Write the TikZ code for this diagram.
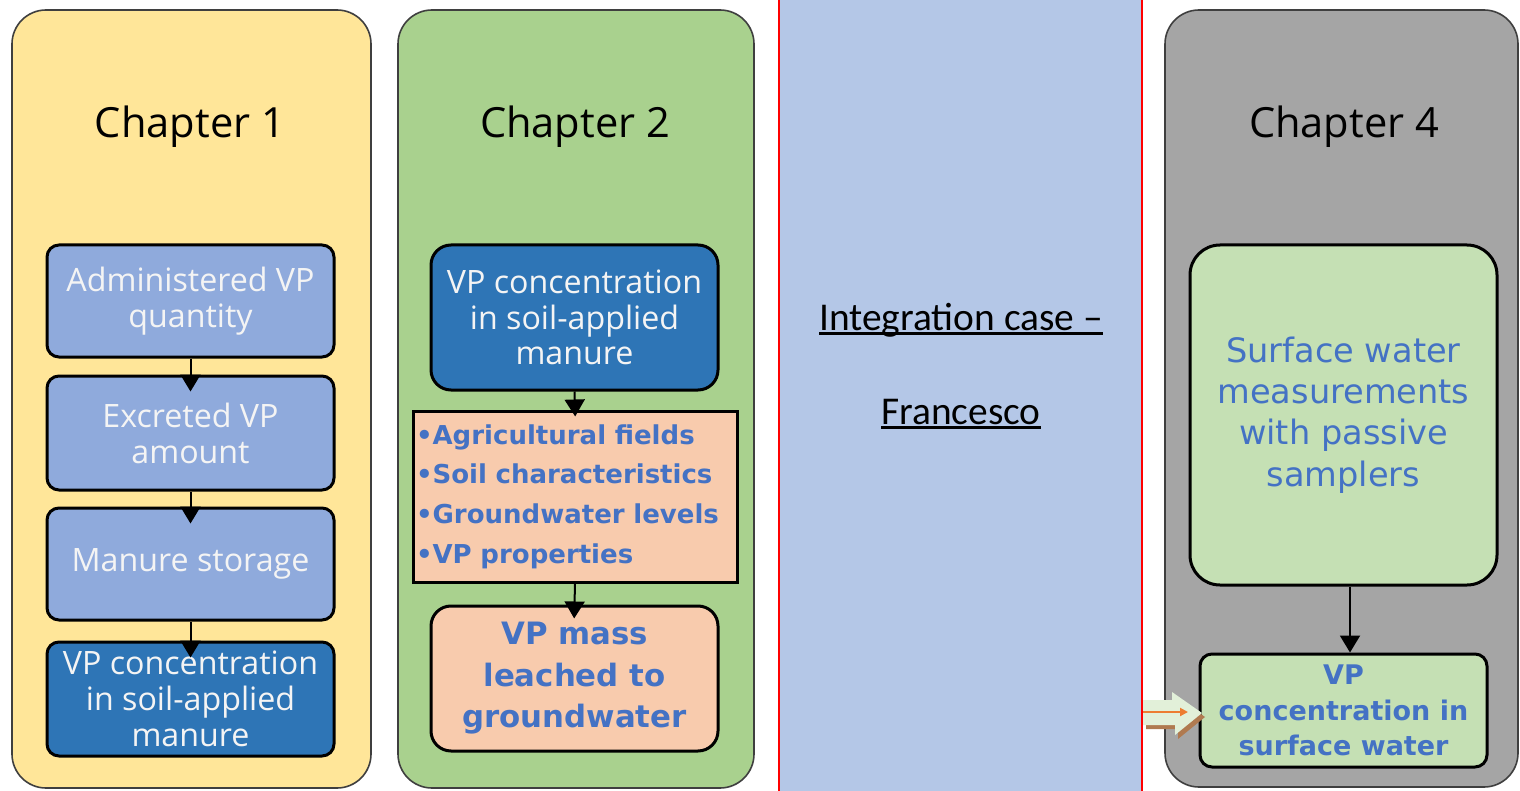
\documentclass[tikz,border=0pt]{standalone}
\usepackage{fontspec}
\setmainfont{Open Sans}
\newfontfamily\dejavu{DejaVu Sans}
\newfontfamily\carlito{Carlito}
\usetikzlibrary{arrows.meta}

\definecolor{panelyellow}{HTML}{FFE699}
\definecolor{panelgreen}{HTML}{A9D18E}
\definecolor{panelgray}{HTML}{A5A5A5}
\definecolor{panelline}{HTML}{3F3F3F}
\definecolor{midblue}{HTML}{B4C7E7}
\definecolor{lightbox}{HTML}{8FAADC}
\definecolor{darkbox}{HTML}{2E75B6}
\definecolor{peach}{HTML}{F8CBAD}
\definecolor{palegreen}{HTML}{C5E0B4}
\definecolor{bluetext}{HTML}{4472C4}
\definecolor{arrowgreen}{HTML}{E2F0D9}
\definecolor{arrowbrown}{HTML}{B07A50}
\definecolor{arroworange}{HTML}{ED7D31}
\definecolor{offwhite}{HTML}{F4F4F4}

% underline placed close to the baseline, as word processors do
\newcommand\wordul[1]{\setbox0\hbox{#1}\copy0\llap{\rule[-0.12em]{\wd0}{0.065em}}}

\begin{document}
\begin{tikzpicture}[x=0.5pt,y=-0.5pt,
  panel/.style={draw=panelline, line width=0.8pt, rounded corners=17pt},
  chapter/.style={anchor=base, inner sep=0pt, text=black, font=\fontsize{20.8}{24}\selectfont},
  stepbox/.style={draw=black, line width=1.5pt, rounded corners=6pt,
    minimum width=143.5pt, inner sep=0pt, align=center},
  whitetext/.style={text=offwhite, font=\fontsize{16.1}{18}\selectfont},
  flow/.style={draw=black, line width=1pt, -{Triangle[width=10pt,length=8.5pt]}},
]
\useasboundingbox (0,0) rectangle (1520,791);
\fill[white] (0,0) rectangle (1520,791);

% ---- background panels ----
\draw[panel, fill=panelyellow] (12,10) rectangle (371,788);
\draw[panel, fill=panelgreen] (398,10) rectangle (754,788);
\draw[panel, fill=panelgray] (1165,10) rectangle (1518,787);
\fill[midblue] (779,0) rectangle (1142,791);
\draw[red, line width=1pt] (779,0) -- (779,791);
\draw[red, line width=1pt] (1142,0) -- (1142,791);

% ---- titles ----
\node[chapter] (t1) at (190,138) {Chapter 1};
\node[chapter] (t2) at (575,138) {Chapter 2};
\node[chapter] (t4) at (1344,138) {Chapter 4};

% ---- Chapter 1 ----
\node[stepbox, whitetext, fill=lightbox, minimum height=56pt] (a) at (190.5,301)
  {Administered VP\\quantity};
\node[stepbox, whitetext, fill=lightbox, minimum height=57pt] (b) at (190.5,433)
  {Excreted VP\\amount};
\node[stepbox, whitetext, fill=lightbox, minimum height=56pt] (c) at (190.5,564)
  {Manure storage};
\node[stepbox, whitetext, fill=darkbox, minimum height=57pt] (d) at (190.5,699)
  {VP concentration\\in soil-applied\\manure};
\draw[flow, shorten >=-8.5pt] (a.south) -- (b.north);
\draw[flow, shorten >=-8.5pt] (b.south) -- (c.north);
\draw[flow, shorten >=-8.5pt] (c.south) -- (d.north);

% ---- Chapter 2 ----
\node[stepbox, whitetext, fill=darkbox, rounded corners=10pt, minimum height=72.5pt,
  font=\fontsize{16.1}{17.75}\selectfont] (e) at (574.5,317.5)
  {VP concentration\\in soil-applied\\manure};
\node[draw=black, line width=1.5pt, fill=peach, minimum width=162pt, minimum height=85.5pt,
  text width=159pt, inner xsep=1.5pt, inner ysep=0pt, align=left, text=bluetext,
  font=\dejavu\bfseries\fontsize{13}{19.8}\selectfont] (f) at (575,496.5)
  {\textbullet Agricultural fields\\
   \textbullet Soil characteristics\\
   \textbullet Groundwater levels\\
   \textbullet VP properties};
\node[stepbox, fill=peach, rounded corners=10pt, minimum height=72.5pt, text=bluetext,
  font=\dejavu\bfseries\fontsize{15.4}{20.75}\selectfont] (g) at (574.5,678.5)
  {VP mass\\leached to\\groundwater};
\draw[flow, shorten >=-3.5pt] (e.south) -- (f.north);
\draw[flow, shorten >=-7pt] (f.south) -- (g.north);

% ---- integration case ----
\node[anchor=base, inner sep=0pt, font=\carlito\fontsize{19.7}{24}\selectfont] (ic)
  at (961,330) {\wordul{Integration case –}};
\node[anchor=base, inner sep=0pt, font=\carlito\fontsize{19.7}{24}\selectfont] (fr)
  at (961,424) {\wordul{Francesco}};

% ---- Chapter 4 ----
\node[stepbox, fill=palegreen, rounded corners=15pt, minimum width=153.5pt, minimum height=170pt,
  text=bluetext, font=\dejavu\fontsize{16.8}{20.6}\selectfont] (h) at (1343.5,415)
  {Surface water\\measurements\\with passive\\samplers};
\node[stepbox, fill=palegreen, minimum height=56.5pt, text=bluetext,
  font=\dejavu\bfseries\fontsize{13.5}{17.75}\selectfont] (i) at (1343.5,710.5)
  {VP\\concentration in\\surface water};
\draw[flow] ([xshift=3.25pt]h.south) -- ([xshift=3.25pt]i.north);

% incoming block arrow with its shadow and the inner orange arrow
\fill[arrowbrown] (1146,704) -- (1175,704) -- (1175,696) -- (1205,717) -- (1178,739)
  -- (1178,729) -- (1146,729) -- cycle;
\fill[arrowgreen] (1143,700) -- (1172,700) -- (1172,692) -- (1202,713) -- (1175,735)
  -- (1175,725) -- (1143,725) -- cycle;
\draw[arroworange, line width=1.2pt, -{Triangle[width=4pt,length=4pt]}] (1143,712) -- (1188,712);
\end{tikzpicture}
\end{document}
